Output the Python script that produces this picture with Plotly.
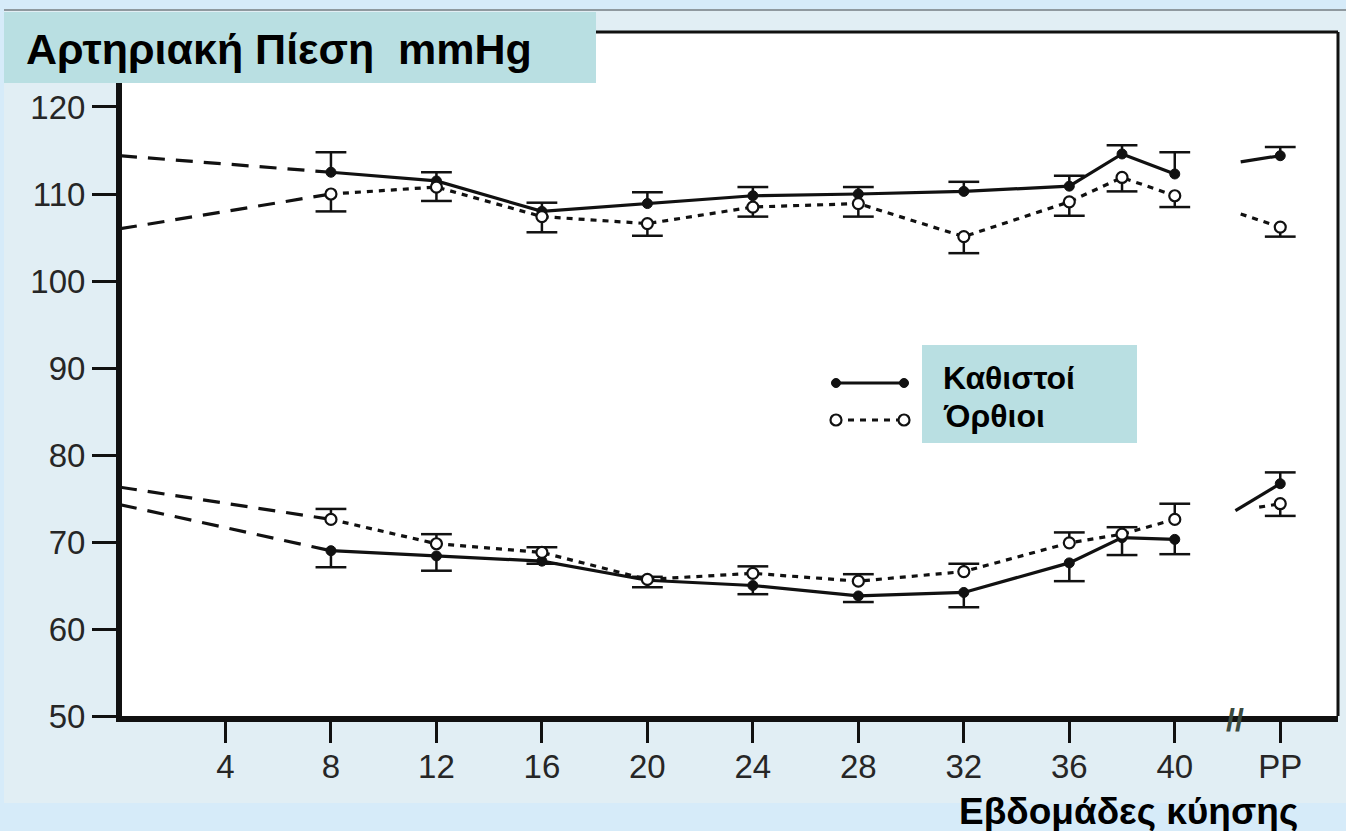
import plotly.graph_objects as go

# ---------------- data ----------------
weeks = [8, 12, 16, 20, 24, 28, 32, 36, 38, 40]
pp_week = 44
prepreg_week = 0

x_tick_vals = [4, 8, 12, 16, 20, 24, 28, 32, 36, 40, 44]
x_tick_text = ["4", "8", "12", "16", "20", "24", "28", "32", "36", "40", "PP"]
y_tick_vals = [50, 60, 70, 80, 90, 100, 110, 120]

# systolic, sitting (error bars upward)
sys_sit = [112.5, 111.5, 108.0, 108.9, 109.8, 110.0, 110.3, 110.9, 114.6, 112.3]
sys_sit_err = [2.3, 1.0, 1.0, 1.3, 1.0, 0.8, 1.1, 1.2, 1.0, 2.5]
# systolic, standing (error bars downward)
sys_stand = [110.0, 110.8, 107.4, 106.6, 108.5, 108.9, 105.1, 109.1, 111.9, 109.8]
sys_stand_err = [2.0, 1.6, 1.8, 1.4, 1.1, 1.5, 1.9, 1.6, 1.6, 1.3]
# diastolic, sitting (error bars downward)
dia_sit = [69.0, 68.4, 67.8, 65.6, 65.0, 63.8, 64.2, 67.6, 70.5, 70.3]
dia_sit_err = [1.9, 1.7, 0.3, 0.8, 1.0, 0.7, 1.7, 2.1, 2.0, 1.7]
# diastolic, standing (error bars upward)
dia_stand = [72.6, 69.8, 68.8, 65.7, 66.4, 65.5, 66.6, 69.9, 70.9, 72.6]
dia_stand_err = [1.2, 1.1, 0.6, 0.3, 0.8, 0.8, 0.9, 1.2, 0.8, 1.8]

# post-partum values (value, error, direction of error bar)
sys_sit_pp, sys_sit_pp_err, sys_sit_pp_dir = 114.4, 1.0, 1
sys_stand_pp, sys_stand_pp_err, sys_stand_pp_dir = 106.2, 1.1, -1
dia_sit_pp, dia_sit_pp_err, dia_sit_pp_dir = 76.7, 1.3, 1
dia_stand_pp, dia_stand_pp_err, dia_stand_pp_dir = 74.4, 1.4, -1

# lead-in segment into the post-partum point (week, value)
sys_sit_pp_from = (42.5, 113.7)
sys_stand_pp_from = (42.5, 107.7)
dia_sit_pp_from = (42.3, 73.6)
dia_stand_pp_from = (43.2, 74.0)

# pre-pregnancy extrapolation values (at week 0)
sys_sit_start = 114.4
sys_stand_start = 106.0
dia_sit_start = 74.3
dia_stand_start = 76.3

axis_break_week = 42.3

legend_labels = ["Καθιστοί", "Όρθιοι"]

# ---------------- layout geometry ----------------
W, H = 1346, 831
ML, MR, MT, MB = 122, 8, 32, 115
PW, PH = W - ML - MR, H - MT - MB


def px(x):
    return (x - ML) / PW


def py(y):
    return 1 - (y - MT) / PH


BLACK = "#111111"
TEAL = "#b9dfe2"
FONT = "Liberation Sans, Arial, sans-serif"

fig = go.Figure()


def add_stems(xs, ys, errs, direction):
    sx, sy = [], []
    for x, y, e in zip(xs, ys, errs):
        sx += [x, x, None]
        sy += [y, y + direction * e, None]
    fig.add_trace(go.Scatter(x=sx, y=sy, mode="lines", showlegend=False,
                             line=dict(color=BLACK, width=2.5), hoverinfo="skip"))
    fig.add_trace(go.Scatter(x=xs, y=[y + direction * e for y, e in zip(ys, errs)],
                             mode="markers", showlegend=False, hoverinfo="skip",
                             marker=dict(symbol="line-ew", size=22,
                                         line=dict(color=BLACK, width=2.5))))


SIT_MARKER = dict(symbol="circle", size=10, color=BLACK, line=dict(color=BLACK, width=1))
STAND_MARKER = dict(symbol="circle", size=11, color="white", line=dict(color=BLACK, width=2.2))
SIT_LINE = dict(color=BLACK, width=3.2)
STAND_LINE = dict(color=BLACK, width=3.2, dash="6px,6px")
EXTRAP_LINE = dict(color=BLACK, width=3.2, dash="17px,11px")


def series(vals, errs, direction, start, pp, pp_err, pp_dir, pp_from, sitting, name):
    fig.add_trace(go.Scatter(x=[prepreg_week, weeks[0]], y=[start, vals[0]], mode="lines",
                             line=EXTRAP_LINE, showlegend=False, hoverinfo="skip"))
    add_stems(weeks, vals, errs, direction)
    add_stems([pp_week], [pp], [pp_err], pp_dir)
    line = SIT_LINE if sitting else STAND_LINE
    marker = SIT_MARKER if sitting else STAND_MARKER
    fig.add_trace(go.Scatter(x=[pp_from[0], pp_week], y=[pp_from[1], pp], mode="lines",
                             line=line, showlegend=False, hoverinfo="skip"))
    fig.add_trace(go.Scatter(x=[pp_week], y=[pp], mode="markers", marker=marker,
                             showlegend=False, name=name))
    fig.add_trace(go.Scatter(x=weeks, y=vals, mode="lines+markers", line=line,
                             marker=marker, name=name, showlegend=False))


series(sys_sit, sys_sit_err, 1, sys_sit_start, sys_sit_pp, sys_sit_pp_err, sys_sit_pp_dir,
       sys_sit_pp_from, True, legend_labels[0])
series(sys_stand, sys_stand_err, -1, sys_stand_start, sys_stand_pp, sys_stand_pp_err,
       sys_stand_pp_dir, sys_stand_pp_from, False, legend_labels[1])
series(dia_sit, dia_sit_err, -1, dia_sit_start, dia_sit_pp, dia_sit_pp_err, dia_sit_pp_dir,
       dia_sit_pp_from, True, legend_labels[0])
series(dia_stand, dia_stand_err, 1, dia_stand_start, dia_stand_pp, dia_stand_pp_err,
       dia_stand_pp_dir, dia_stand_pp_from, False, legend_labels[1])


def circle(cx, cy, r, fill, lw):
    return dict(type="circle", xref="paper", yref="paper",
                x0=px(cx - r), x1=px(cx + r), y0=py(cy + r), y1=py(cy - r),
                fillcolor=fill, line=dict(color=BLACK, width=lw), layer="above")


# legend key geometry (pixels)
KX0, KX1 = 836, 904
KY_SIT, KY_STAND = 383, 420

shapes = [
    # scanned picture area
    dict(type="rect", xref="paper", yref="paper", x0=px(4), x1=px(W), y0=py(803), y1=py(9),
         fillcolor="#e1eef4", line=dict(width=0), layer="below"),
    dict(type="line", xref="paper", yref="paper", x0=px(4), x1=px(W), y0=py(10), y1=py(10),
         line=dict(color="#8f999f", width=2), layer="below"),
    # white plotting area
    dict(type="rect", xref="paper", yref="paper", x0=0, x1=1, y0=0, y1=1,
         fillcolor="white", line=dict(width=0), layer="below"),
    # top and right frame
    dict(type="line", xref="paper", yref="paper", x0=0, x1=1, y0=1, y1=1,
         line=dict(color=BLACK, width=3), layer="below"),
    dict(type="line", xref="paper", yref="paper", x0=1, x1=1, y0=0, y1=1,
         line=dict(color=BLACK, width=3), layer="below"),
    # title box
    dict(type="rect", xref="paper", yref="paper", x0=px(4), x1=px(596), y0=py(83), y1=py(12),
         fillcolor=TEAL, line=dict(width=0), layer="above"),
    # legend label box
    dict(type="rect", xref="paper", yref="paper", x0=px(922), x1=px(1137), y0=py(443), y1=py(345),
         fillcolor=TEAL, line=dict(width=0), layer="below"),
    # legend keys
    dict(type="line", xref="paper", yref="paper", x0=px(KX0), x1=px(KX1),
         y0=py(KY_SIT), y1=py(KY_SIT), line=dict(color=BLACK, width=3.2), layer="above"),
    dict(type="line", xref="paper", yref="paper", x0=px(KX0), x1=px(KX1),
         y0=py(KY_STAND), y1=py(KY_STAND),
         line=dict(color=BLACK, width=3.2, dash="6px,6px"), layer="above"),
    circle(KX0, KY_SIT, 4.5, BLACK, 1),
    circle(KX1, KY_SIT, 4.5, BLACK, 1),
    circle(KX0, KY_STAND, 5.5, "white", 2.2),
    circle(KX1, KY_STAND, 5.5, "white", 2.2),
]

annotations = [
    dict(text="<b>Αρτηριακή Πίεση  mmHg</b>", xref="paper", yref="paper",
         x=px(24), y=py(49), xanchor="left", yanchor="middle", showarrow=False,
         font=dict(family=FONT, size=43, color="black")),
    dict(text="<b>Εβδομάδες κύησης</b>", xref="paper", yref="paper",
         x=px(1128), y=py(811), xanchor="center", yanchor="middle", showarrow=False,
         font=dict(family=FONT, size=37, color="black")),
    dict(text="<b>" + legend_labels[0] + "</b>", xref="paper", yref="paper",
         x=px(941), y=py(378), xanchor="left", yanchor="middle", showarrow=False,
         font=dict(family=FONT, size=32, color="black")),
    dict(text="<b>" + legend_labels[1] + "</b>", xref="paper", yref="paper",
         x=px(941), y=py(416), xanchor="left", yanchor="middle", showarrow=False,
         font=dict(family=FONT, size=32, color="black")),
    dict(text="<b>//</b>", xref="x", yref="paper", x=axis_break_week, y=py(720),
         xanchor="center", yanchor="middle", showarrow=False,
         font=dict(family=FONT, size=32, color="#3a4a40")),
]

fig.update_layout(
    width=W, height=H,
    margin=dict(l=ML, r=MR, t=MT, b=MB),
    paper_bgcolor="#d6ebf9",
    plot_bgcolor="rgba(0,0,0,0)",
    shapes=shapes,
    annotations=annotations,
    showlegend=False,
    xaxis=dict(range=[0.076, 46.19], tickvals=x_tick_vals, ticktext=x_tick_text,
               showgrid=False, zeroline=False, showline=True, linecolor=BLACK, linewidth=6,
               ticks="outside", ticklen=21, tickwidth=2.5, tickcolor=BLACK,
               ticklabelstandoff=-5,
               tickfont=dict(family=FONT, size=33, color="#262626")),
    yaxis=dict(range=[50, 128.62], tickvals=y_tick_vals,
               showgrid=False, zeroline=False, showline=True, linecolor=BLACK, linewidth=6,
               ticks="outside", ticklen=24, tickwidth=2.5, tickcolor=BLACK,
               tickfont=dict(family=FONT, size=33, color="#262626")),
)

fig.write_html("out.html", config={"displayModeBar": False},
               post_script="document.body.style.margin='0';document.body.style.overflow='hidden';")
